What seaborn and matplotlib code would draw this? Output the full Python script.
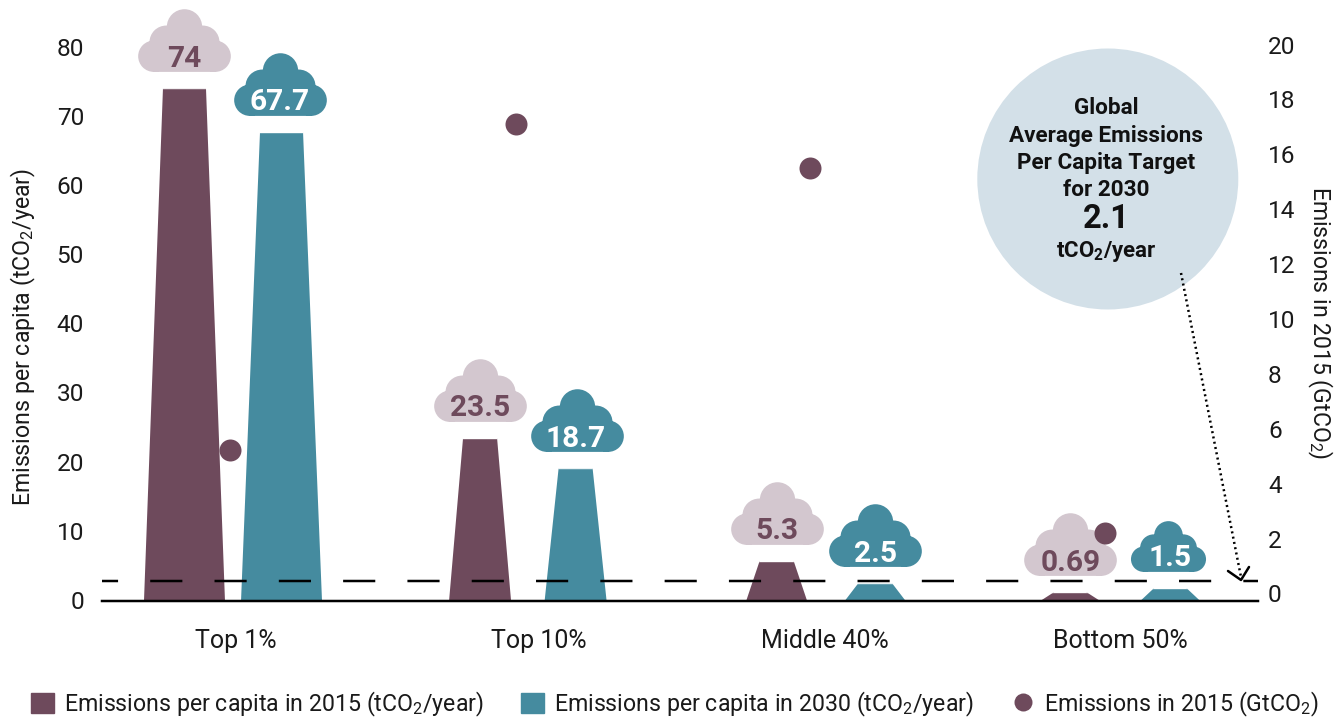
import numpy as np
import pandas as pd
import matplotlib
matplotlib.use("Agg")
import matplotlib.pyplot as plt
from matplotlib.lines import Line2D
from matplotlib.patches import Patch, Polygon, Circle
from matplotlib.path import Path
from matplotlib.transforms import IdentityTransform, ScaledTranslation
import seaborn as sns

categories = ["Top 1%", "Top 10%", "Middle 40%", "Bottom 50%"]
series_names = ["Emissions per capita in 2015 (tCO$_2$/year)",
                "Emissions per capita in 2030 (tCO$_2$/year)"]
heights_2015 = [74.2, 23.6, 5.8, 1.3]
heights_2030 = [67.9, 19.2, 2.55, 1.9]
labels_2015 = ["74", "23.5", "5.3", "0.69"]
labels_2030 = ["67.7", "18.7", "2.5", "1.5"]
emissions_2015 = [5.28, 17.16, 15.56, 2.26]
dot_shift_px = [-3, -13, -14, -15]
target_line = 2.94
left_ticks = list(range(0, 81, 10))
right_ticks = list(range(0, 21, 2))

W, H = 1338, 717
PX = 0.72
PLUM, TEAL, MIST, SKY = "#6E4A5C", "#458B9F", "#D3C7CF", "#D3E0E8"
INK = "#1a1a1a"

sns.set_theme(style="white")
plt.rcParams["font.family"] = ["Roboto", "DejaVu Sans"]
plt.rcParams["mathtext.default"] = "regular"

fig = plt.figure(figsize=(W / 100, H / 100), dpi=100)
ax = fig.add_axes([102 / W, 1 - 601 / H, (1258 - 102) / W, (601 - 6.7) / H])

df = pd.DataFrame({
    "group": categories * 2,
    "series": [series_names[0]] * 4 + [series_names[1]] * 4,
    "value": heights_2015 + heights_2030,
})
sns.barplot(data=df, x="group", y="value", hue="series", order=categories,
            palette=[PLUM, TEAL], width=0.66, gap=0, dodge=True, legend=False,
            saturation=1, ax=ax)

UNIT = (1120 - 233.25) / 3
ax.set_xlim((102 - 233.25) / UNIT, (1258 - 233.25) / UNIT)
ax.set_ylim(0, 86)


def cloud(scale):
    u = scale / 3
    base = 16.6
    parts = [Path.circle((0, base + 135 * u), 53 * u)]
    for sgn in (-1, 1):
        parts.append(Path.circle((sgn * 55 * u, base + 89 * u), 50 * u))
        parts.append(Path.circle((sgn * 92 * u, base + 47 * u), 47 * u))
    parts.append(Path([(-92 * u, base), (92 * u, base), (92 * u, base + 90 * u),
                       (-92 * u, base + 90 * u), (-92 * u, base)],
                      [Path.MOVETO, Path.LINETO, Path.LINETO, Path.LINETO, Path.CLOSEPOLY]))
    return Path.make_compound_path(*parts)


bottom_w = [81, 62, 61, 60]
top_w = [43, 34, 34, 32]
bar_shift = [[0, 0, 1, -1], [-0.5, -2, 2, 1.5]]
cloud_shift = [[0, 0, 0, 0], [-2, 1, 0, -2.5]]
text_shift = [[0, 0, 0, 0], [-2, 0, 0, 0]]
styles = [(MIST, PLUM, labels_2015), (TEAL, "white", labels_2030)]
cloud_scale = [[1, 1, 1, 1], [1, 1, 1, 0.81]]
bars = [p for p in ax.patches if p.get_height() > 0]
for k, rect in enumerate(bars):
    s, g = k // 4, k % 4
    cx = rect.get_x() + rect.get_width() / 2 + bar_shift[s][g] / UNIT
    h = rect.get_height()
    bw, tw = bottom_w[g] / 2 / UNIT, top_w[g] / 2 / UNIT
    rect.set_x(rect.get_x() + bar_shift[s][g] / UNIT)
    rect.set_clip_path(Polygon([(cx - bw, 0), (cx + bw, 0), (cx + tw, h), (cx - tw, h)],
                               closed=True, transform=ax.transData))
    fill, ink, texts = styles[s]
    path = cloud(cloud_scale[s][g])
    size = (2 * np.abs(path.vertices).max() * PX) ** 2
    ax.scatter([cx + cloud_shift[s][g] / UNIT], [h], marker=path, s=size, color=fill,
               linewidths=0, zorder=4, clip_on=False)
    ax.annotate(texts[g], (cx, h), xytext=(text_shift[s][g] * PX, 29.5 * PX),
                textcoords="offset points", ha="center", va="center", fontsize=21.5,
                fontweight="bold", color=ink, zorder=5)

LW = 2.5
dash = 32.15 / LW
ax.axhline(target_line, color="black", lw=LW * PX, linestyle=(dash / 2, (dash, dash)), zorder=3)

for side in ("left", "right", "top"):
    ax.spines[side].set_visible(False)
ax.spines["bottom"].set_linewidth(LW * PX)
ax.spines["bottom"].set_color("black")
ax.set_xlabel("")
ax.set_ylabel("")
ax.set_yticks(left_ticks)
ax.set_xticks([0.01, 1.034, 2, 3])
ax.set_xticklabels(categories)
ax.tick_params(axis="y", length=0, pad=18 * PX, labelsize=17.6, labelcolor=INK)
ax.tick_params(axis="x", length=0, pad=28 * PX, labelsize=18, labelcolor=INK)
up = ScaledTranslation(0, 1.2 / 100, fig.dpi_scale_trans)
for lab in ax.get_yticklabels():
    lab.set_transform(lab.get_transform() + up)

ax2 = ax.twinx()
ax2.set_ylim((595 - 601) / 27.45, (595 - 6.7) / 27.45)
dot_x = [i + d / UNIT for i, d in enumerate(dot_shift_px)]
sns.scatterplot(x=dot_x, y=emissions_2015, color=PLUM, s=(22 * PX) ** 2, linewidth=0,
                ax=ax2, zorder=6, clip_on=False)
ax2.set_xlim(ax.get_xlim())
for spine in ax2.spines.values():
    spine.set_visible(False)
ax2.set_yticks(right_ticks)
ax2.tick_params(axis="y", length=0, pad=10 * PX, labelsize=17.6, labelcolor=INK)
up2 = ScaledTranslation(0, 1.5 / 100, fig.dpi_scale_trans)
for lab in ax2.get_yticklabels():
    lab.set_transform(lab.get_transform() + up2)
ax2.grid(False)
ax.grid(False)


def py(y):
    return H - y


fig.text(23 / W, py(337) / H, "Emissions per capita (tCO$_2$/year)", rotation=90,
         ha="center", va="center", fontsize=16.7, color=INK)
fig.text(1320 / W, py(323) / H, "Emissions in 2015 (GtCO$_2$)", rotation=270,
         ha="center", va="center", fontsize=16.6, color=INK)

fig.add_artist(Circle((1107.8, py(179)), 130.5, transform=IdentityTransform(),
                      facecolor=SKY, edgecolor="none", zorder=1))
for txt, y, fs in [("Global", 108, 16.2), ("Average Emissions", 136, 16.2),
                   ("Per Capita Target", 163, 16.2), ("for 2030", 190, 16.2),
                   ("2.1", 219, 23.5), ("tCO$_2$/year", 252, 16)]:
    fig.text(1106 / W, py(y) / H, txt, ha="center", va="center", fontsize=fs,
             fontweight="bold", color="#111111", zorder=3)

fig.add_artist(Line2D([1181, 1241], [py(273), py(577)], transform=IdentityTransform(),
                      color="black", lw=LW * PX, linestyle=(0, (0.8, 1.35)), zorder=2))
fig.add_artist(Line2D([1228, 1241, 1249], [py(571), py(580), py(567)],
                      transform=IdentityTransform(), color="black", lw=LW * PX, zorder=2))

handles = [Patch(color=PLUM), Patch(color=TEAL),
           Line2D([], [], linestyle="none", marker="o", color=PLUM, markeredgewidth=0,
                  markersize=18 * PX)]
fs = 16.65
fpx = fs / PX
fig.legend(handles, series_names + ["Emissions in 2015 (GtCO$_2$)"], ncol=3, frameon=False,
           loc="center left", bbox_to_anchor=(31 / W, py(704) / H), borderaxespad=0, borderpad=0,
           fontsize=fs, handlelength=23 / fpx, handleheight=23 / fpx,
           handletextpad=9.5 / fpx, columnspacing=38 / fpx, labelcolor=INK)

fig.savefig("out.png", dpi=100, facecolor="white")
